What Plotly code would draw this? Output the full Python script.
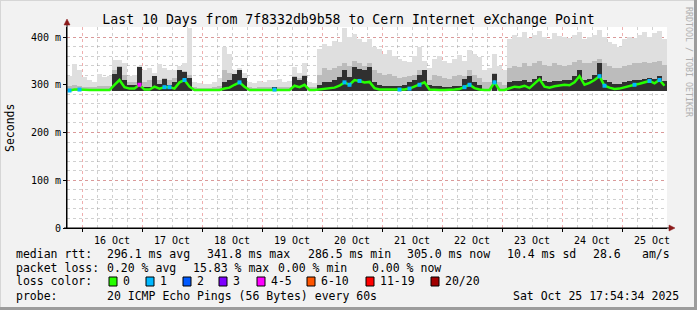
import plotly.graph_objects as go
import pandas as pd

# ---------------- data ----------------
title = "Last 10 Days from 7f8332db9b58 to Cern Internet eXchange Point"
range_start = "2025-10-15 18:00"
range_end = "2025-10-25 18:00"
bin_hours = 2
min_rtt = 286.5

# smoke envelope tops (ms) per 2-hour bin
smoke_hi = [319, 344, 330, 316, 309, 306, 323, 316, 319, 351,
            351, 345, 318, 320, 340, 330, 335, 325, 344, 335,
            330, 330, 340, 345, 418, 305, 303, 302, 302, 305,
            315, 379, 365, 330, 335, 325, 305, 304, 308, 305,
            310, 310, 313, 306, 308, 337, 325, 345, 306, 303,
            375, 386, 382, 392, 390, 418, 400, 407, 395, 390,
            395, 380, 375, 365, 372, 360, 355, 350, 348, 360,
            380, 350, 335, 355, 360, 350, 345, 355, 362, 350,
            372, 365, 358, 330, 335, 365, 340, 330, 395, 405,
            400, 410, 398, 405, 412, 400, 395, 408, 402, 400,
            398, 405, 410, 395, 400, 405, 415, 400, 390, 385,
            380, 395, 400, 398, 405, 410, 400, 408, 412, 395]

smoke_mid = [298, 300, 298, 296, 295, 295, 298, 297, 298, 330,
             340, 320, 305, 305, 338, 305, 310, 318, 310, 315,
             310, 315, 330, 328, 320, 295, 294, 294, 294, 295,
             298, 330, 325, 322, 330, 315, 295, 294, 296, 295,
             296, 296, 296, 295, 296, 318, 315, 320, 296, 295,
             320, 335, 330, 335, 340, 345, 340, 350, 345, 340,
             345, 330, 325, 320, 322, 318, 315, 316, 318, 320,
             330, 330, 310, 320, 318, 315, 312, 318, 320, 318,
             330, 320, 315, 305, 305, 325, 305, 300, 335, 340,
             338, 345, 340, 345, 350, 342, 340, 345, 342, 340,
             342, 348, 352, 345, 345, 350, 355, 345, 340, 335,
             335, 340, 342, 345, 345, 348, 345, 348, 350, 342]

smoke_dark = [None, None, None, None, None, None, None, None, None, 323,
              337, 310, 300, 300, 338, 295, 295, 318, 302, 312,
              300, 305, 330, 327, 315, None, None, None, None, None,
              None, 305, 310, 322, 330, 315, None, None, None, None,
              None, 296, None, None, None, 316, 310, 318, None, None,
              300, 305, 305, 310, 316, 330, 316, 337, 334, 330,
              337, 305, 300, 298, 298, 298, 298, 300, 305, 310,
              320, 330, 300, 298, 298, 296, 296, 298, 298, 312,
              318, 305, 300, None, None, 323, None, None, 305, 308,
              308, 310, 306, 312, 318, 308, 306, 308, 308, 310,
              310, 318, 330, 310, 312, 320, 345, 310, 305, 302,
              302, 305, 308, 310, 310, 312, 314, 312, 318, 308]

median_rtt = [288, 290, 290, 289, 289, 289, 289, 289, 289, 300,
              310, 295, 292, 292, 300, 290, 290, 296, 292, 295,
              295, 292, 305, 310, 296, 289, 289, 289, 289, 289,
              289, 292, 294, 300, 305, 296, 289, 289, 289, 289,
              289, 290, 289, 289, 289, 298, 295, 300, 289, 289,
              290, 292, 293, 294, 298, 305, 300, 310, 308, 305,
              306, 293, 290, 290, 290, 290, 290, 290, 292, 296,
              300, 305, 290, 289, 289, 289, 289, 290, 291, 295,
              300, 293, 290, 289, 289, 305, 289, 289, 292, 296,
              295, 298, 293, 302, 312, 296, 294, 297, 298, 300,
              299, 305, 318, 300, 304, 310, 318, 298, 294, 291,
              292, 295, 297, 300, 302, 305, 308, 303, 310, 298]

lost_pings = [1, 0, 1, 0, 0, 0, 0, 0, 0, 0,
              0, 0, 0, 0, 5, 0, 0, 0, 0, 1,
              1, 0, 0, 1, 0, 0, 0, 0, 0, 0,
              0, 0, 0, 0, 1, 0, 0, 0, 0, 0,
              0, 1, 0, 0, 0, 0, 0, 0, 0, 0,
              0, 0, 0, 0, 0, 1, 1, 0, 1, 0,
              0, 0, 0, 0, 0, 0, 1, 0, 1, 0,
              1, 0, 0, 0, 0, 0, 0, 0, 0, 1,
              1, 0, 0, 0, 0, 1, 0, 0, 0, 0,
              0, 0, 0, 0, 0, 0, 0, 0, 0, 0,
              0, 0, 0, 0, 0, 0, 1, 1, 0, 0,
              0, 0, 0, 1, 0, 0, 1, 0, 1, 0]

y_tickvals = [0, 100, 200, 300, 400]
y_ticktext = ["0", "100 m", "200 m", "300 m", "400 m"]

loss_labels = ["0", "1", "2", "3", "4-5", "6-10", "11-19", "20/20"]
loss_upper = [0, 1, 2, 3, 5, 10, 19, 20]
loss_colors = ["#26ff00", "#00b8ff", "#0059ff", "#7e00ff",
               "#ff00ff", "#ff5500", "#ff0000", "#a10000"]

rtt_stats = ["296.1 ms avg", "341.8 ms max", "286.5 ms min",
             "305.0 ms now", "10.4 ms sd", "28.6", "am/s"]
loss_stats = ["0.20 % avg", "15.83 % max", "0.00 % min", "0.00 % now"]
probe_text = "20 ICMP Echo Pings (56 Bytes) every 60s"
timestamp = "Sat Oct 25 17:54:34 2025"

# ---------------- figure ----------------
W, H = 697, 310
L, R, T, B = 67, 667, 27, 228
MONO = "DejaVu Sans Mono"


def X(px):
    return (px - L) / (R - L)


def Y(py):
    return (B - py) / (B - T)


times = pd.date_range(range_start, periods=len(median_rtt), freq=f"{bin_hours}h") \
    + pd.Timedelta(hours=bin_hours / 2)
width_ms = bin_hours * 3600 * 1000

fig = go.Figure()


def add_band(top, color):
    fig.add_trace(go.Bar(
        x=times, y=[None if t is None else t - min_rtt for t in top],
        base=min_rtt, width=width_ms,
        marker=dict(color=color, line=dict(width=0)),
        hoverinfo="skip"))


add_band(smoke_hi, "#dfdfdf")
add_band(smoke_mid, "#bcbcbc")
add_band(smoke_dark, "#303030")

fig.add_trace(go.Scatter(x=times, y=median_rtt, mode="lines",
                         line=dict(color=loss_colors[0], width=2.5),
                         hoverinfo="skip"))


def loss_color(n):
    for up, c in zip(loss_upper, loss_colors):
        if n <= up:
            return c
    return loss_colors[-1]


lx = [t for t, n in zip(times, lost_pings) if n > 0]
ly = [m for m, n in zip(median_rtt, lost_pings) if n > 0]
lc = [loss_color(n) for n in lost_pings if n > 0]
fig.add_trace(go.Scatter(x=lx, y=ly, mode="markers",
                         marker=dict(color=lc, size=4, symbol="square",
                                     line=dict(width=0)),
                         hoverinfo="skip"))

red_grid = "rgba(225,110,110,0.55)"
gray_grid = "rgba(150,150,150,0.45)"

fig.update_layout(
    width=W, height=H,
    margin=dict(l=L, r=W - R, t=T, b=H - B, pad=0),
    paper_bgcolor="#f2f2f2", plot_bgcolor="#ffffff",
    barmode="overlay", bargap=0, showlegend=False,
    font=dict(family=MONO, size=10, color="#000000"),
    title=dict(text=title, x=0.5, xref="container", xanchor="center",
               y=1 - 19 / H, yref="container", yanchor="middle",
               font=dict(family=MONO, size=13.2, color="#000000")),
    xaxis=dict(type="date", range=[range_start, range_end],
               tick0="2025-10-15", dtick=86400000, tickformat="%d %b",
               ticklabelmode="period", showgrid=True, gridcolor=red_grid,
               griddash="dot", gridwidth=1,
               minor=dict(dtick=21600000, showgrid=True, gridcolor=gray_grid,
                          griddash="dot", gridwidth=1),
               ticks="outside", ticklen=3, tickcolor="#000",
               showline=True, linecolor="#000", linewidth=1, zeroline=False,
               tickfont=dict(family=MONO, size=10), fixedrange=True),
    yaxis=dict(range=[0, 421], tickvals=y_tickvals, ticktext=y_ticktext,
               showgrid=True, gridcolor=red_grid, griddash="dot", gridwidth=1,
               minor=dict(tick0=0, dtick=20, showgrid=True, gridcolor=gray_grid,
                          griddash="dot", gridwidth=1),
               ticks="outside", ticklen=3, tickcolor="#000",
               showline=True, linecolor="#000", linewidth=1, zeroline=False,
               tickfont=dict(family=MONO, size=10), fixedrange=True),
)

ann = []


def text(px, py, s, size=11.5, color="#000000", angle=0, xanchor="left"):
    ann.append(dict(x=X(px), y=Y(py), xref="paper", yref="paper", text=s,
                    showarrow=False, xanchor=xanchor, yanchor="middle",
                    textangle=angle, borderpad=0,
                    font=dict(family=MONO, size=size, color=color)))


text(10, 128, "Seconds", angle=-90, xanchor="center")
text(689, 62, "RRDTOOL / TOBI OETIKER", size=8.3, color="#b0b0b0",
     angle=90, xanchor="center")

row1, row2, row3, row4 = 254, 268, 281, 296
text(15, row1, "median rtt:")
for s, px in zip(rtt_stats, [106, 206, 307, 406, 506, 592, 641]):
    text(px, row1, s)
text(15, row2, "packet loss:")
for s, px in zip(loss_stats, [106, 192, 277, 371]):
    text(px, row2, s)
text(15, row3, "loss color:")
box_x = [109, 146, 183, 219, 257, 307, 366, 431]
shapes = []
for lab, c, bx in zip(loss_labels, loss_colors, box_x):
    shapes.append(dict(type="rect", xref="paper", yref="paper",
                       x0=X(bx), x1=X(bx + 8), y0=Y(286), y1=Y(277),
                       fillcolor=c, line=dict(color="#000", width=1)))
    text(bx + 13, row3, lab)
text(15, row4, "probe:")
text(106, row4, probe_text)
text(512, row4, timestamp)

# axis arrows / extensions
shapes.append(dict(type="line", xref="paper", yref="paper",
                   x0=X(67), x1=X(67), y0=Y(228), y1=Y(22),
                   line=dict(color="#000", width=1)))
shapes.append(dict(type="path", xref="paper", yref="paper",
                   path=f"M {X(64)},{Y(25)} L {X(70)},{Y(25)} L {X(67)},{Y(19)} Z",
                   fillcolor="#8b1a1a", line=dict(color="#8b1a1a", width=0.5)))
shapes.append(dict(type="line", xref="paper", yref="paper",
                   x0=X(64), x1=X(670), y0=Y(228), y1=Y(228),
                   line=dict(color="#000", width=1)))
shapes.append(dict(type="path", xref="paper", yref="paper",
                   path=f"M {X(669)},{Y(225)} L {X(669)},{Y(231)} L {X(675)},{Y(228)} Z",
                   fillcolor="#8b1a1a", line=dict(color="#8b1a1a", width=0.5)))
# frame
shapes.append(dict(type="rect", xref="paper", yref="paper",
                   x0=X(694), x1=X(697), y0=Y(310), y1=Y(0),
                   fillcolor="#9c9c9c", line=dict(width=0)))
shapes.append(dict(type="rect", xref="paper", yref="paper",
                   x0=X(0), x1=X(697), y0=Y(310), y1=Y(307),
                   fillcolor="#9c9c9c", line=dict(width=0)))
shapes.append(dict(type="rect", xref="paper", yref="paper",
                   x0=X(0), x1=X(694), y0=Y(1), y1=Y(0),
                   fillcolor="#d6d6d6", line=dict(width=0)))
shapes.append(dict(type="rect", xref="paper", yref="paper",
                   x0=X(0), x1=X(1), y0=Y(307), y1=Y(0),
                   fillcolor="#d6d6d6", line=dict(width=0)))

fig.update_layout(annotations=ann, shapes=shapes)
fig.write_html("out.html")
